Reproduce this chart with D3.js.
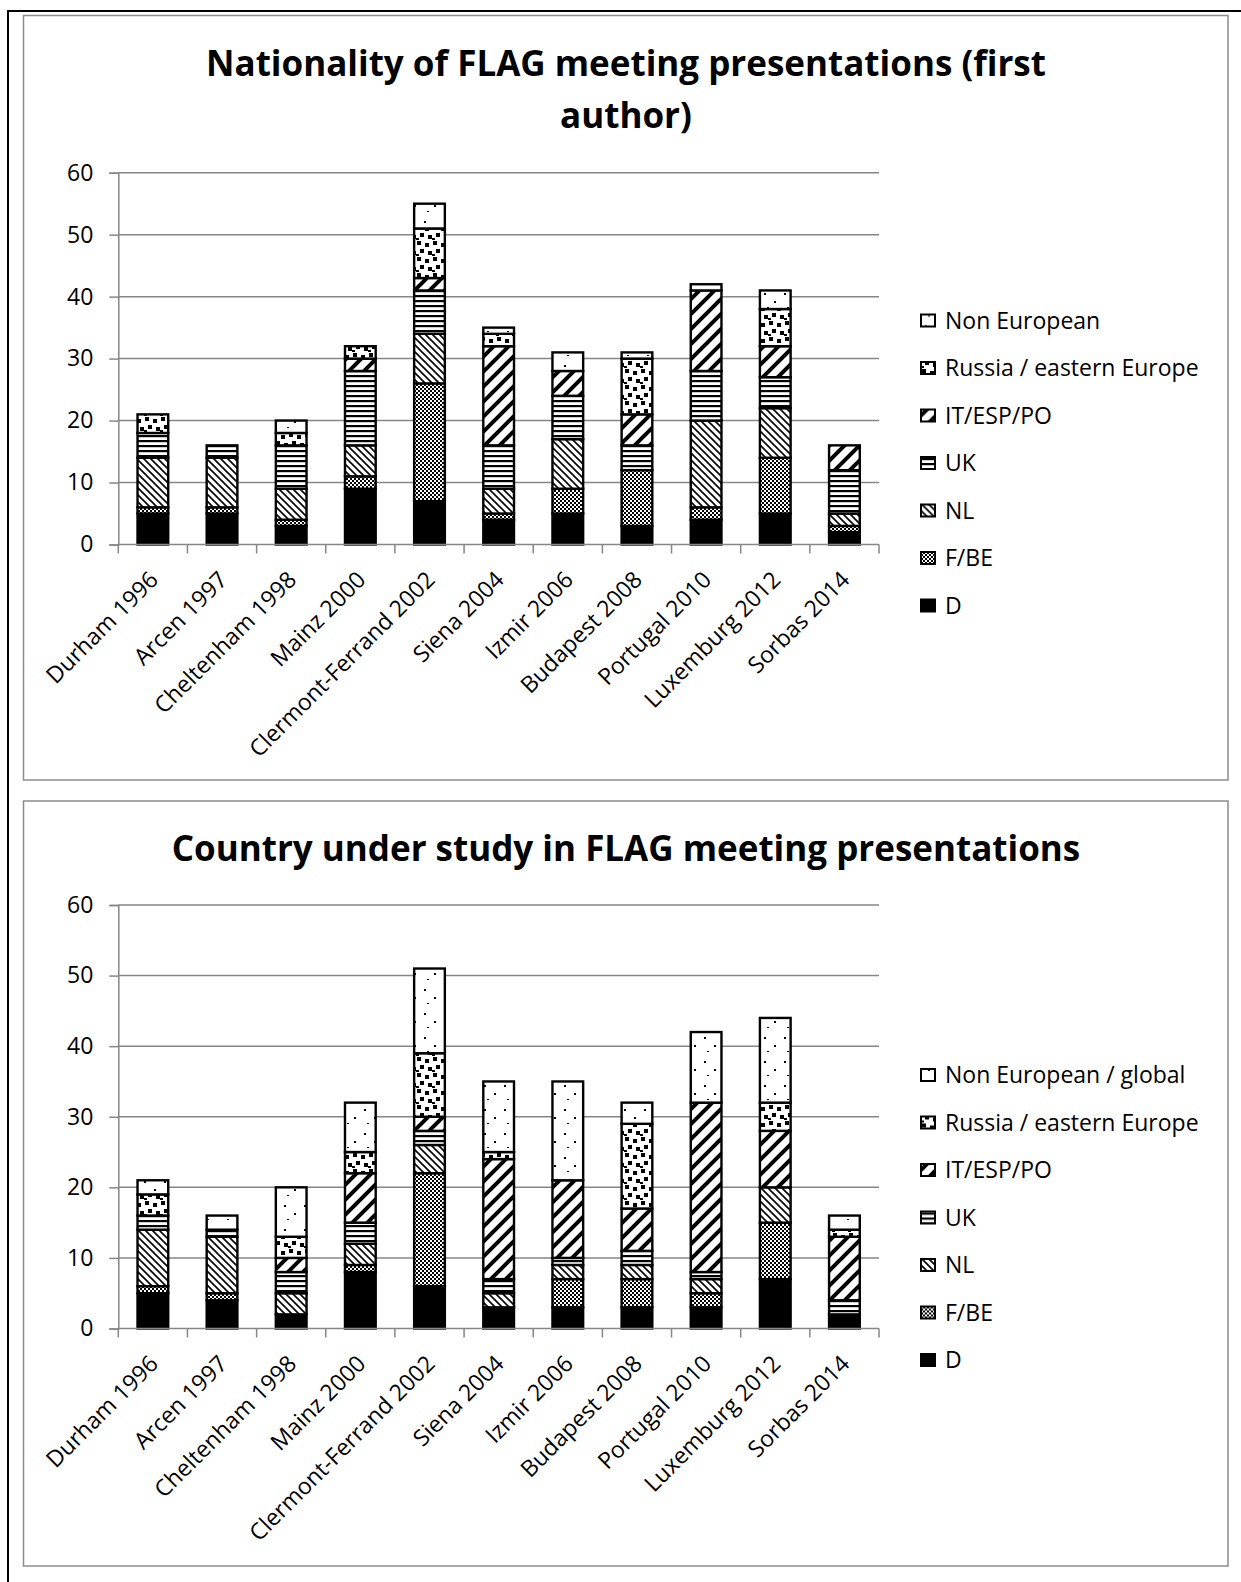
<!DOCTYPE html>
<html>
<head>
<meta charset="utf-8">
<script src="https://cdn.jsdelivr.net/npm/d3@7"></script>
<style>
  body { margin: 0; background: #fff; }
  svg { display: block; }
  text { font-family: "Open Sans", "DejaVu Sans", sans-serif; fill: #000; }
</style>
</head>
<body>
<svg id="fig" width="1241" height="1582"></svg>
<script>
// Meetings (categories on the x axis)
const venues = ["Durham 1996", "Arcen 1997", "Cheltenham 1998", "Mainz 2000",
  "Clermont-Ferrand 2002", "Siena 2004", "Izmir 2006", "Budapest 2008",
  "Portugal 2010", "Luxemburg 2012", "Sorbas 2014"];

// Stack order, bottom to top
const seriesKeys = ["D", "F/BE", "NL", "UK", "IT/ESP/PO", "Russia / eastern Europe", "Non European"];

// Nationality of the first author
const natD   = [5, 5, 3, 9, 7, 4, 5, 3, 4, 5, 2];
const natFBE = [1, 1, 1, 2, 19, 1, 4, 9, 2, 9, 1];
const natNL  = [8, 8, 5, 5, 8, 4, 8, 0, 14, 8, 2];
const natUK  = [4, 2, 7, 12, 7, 7, 7, 4, 8, 5, 7];
const natIT  = [0, 0, 0, 2, 2, 16, 4, 5, 13, 5, 4];
const natRU  = [3, 0, 2, 2, 8, 2, 0, 9, 0, 6, 0];
const natNE  = [0, 0, 2, 0, 4, 1, 3, 1, 1, 3, 0];

// Country under study
const stdD   = [5, 4, 2, 8, 6, 3, 3, 3, 3, 7, 2];
const stdFBE = [1, 1, 0, 1, 16, 0, 4, 4, 2, 8, 0];
const stdNL  = [8, 8, 3, 3, 4, 2, 2, 2, 2, 5, 0];
const stdUK  = [2, 1, 3, 3, 2, 2, 1, 2, 1, 0, 2];
const stdIT  = [0, 0, 2, 7, 2, 17, 11, 6, 24, 8, 9];
const stdRU  = [3, 0, 3, 3, 9, 1, 0, 12, 0, 4, 1];
const stdNE  = [2, 2, 7, 7, 12, 10, 14, 3, 10, 12, 2];

const yTicks = [0, 10, 20, 30, 40, 50, 60];

const legendTop = ["D", "F/BE", "NL", "UK", "IT/ESP/PO", "Russia / eastern Europe", "Non European"];
const legendBottom = ["D", "F/BE", "NL", "UK", "IT/ESP/PO", "Russia / eastern Europe", "Non European / global"];

const svg = d3.select("#fig");
const defs = svg.append("defs");

// Black-and-white hatch fills
function pattern(id, w, h, draw) {
  const p = defs.append("pattern").attr("id", id)
    .attr("patternUnits", "userSpaceOnUse").attr("width", w).attr("height", h);
  p.append("rect").attr("width", w).attr("height", h).attr("fill", "#fff");
  draw(p);
}
pattern("p-fbe", 4, 4, p => p.append("path").attr("d", "M0,0h2v2h-2z M2,2h2v2h-2z").attr("fill", "#000"));
pattern("p-nl", 7, 7, p => p.append("path").attr("d", "M-1,-1 L8,8 M-1,6 L1,8 M6,-1 L8,1")
  .attr("stroke", "#000").attr("stroke-width", 1.6));
pattern("p-uk", 6, 5, p => p.append("rect").attr("width", 6).attr("height", 2.2).attr("fill", "#000"));
pattern("p-it", 15, 15, p => p.append("path").attr("d", "M-4,4 L4,-4 M-1,16 L16,-1 M11,19 L19,11")
  .attr("stroke", "#000").attr("stroke-width", 4));
pattern("p-ru", 16, 16, p => p.append("path")
  .attr("d", "M1,1h4v4h-4z M9,3h4v4h-4z M4,9h4v4h-4z M12,11h4v4h-4z M0,14h3v2h-3z").attr("fill", "#000"));
pattern("p-ne", 20, 24, p => p.append("path")
  .attr("d", "M4,5h2v2h-2z M14,13h2v2h-2z M7,19h2v1h-2z").attr("fill", "#000"));

const fills = ["#000", "url(#p-fbe)", "url(#p-nl)", "url(#p-uk)", "url(#p-it)", "url(#p-ru)", "url(#p-ne)"];

// Outer frame (left and top edges)
svg.append("line").attr("x1", 8).attr("x2", 8).attr("y1", 10).attr("y2", 1582)
  .attr("stroke", "#000").attr("stroke-width", 2);
svg.append("line").attr("x1", 7).attr("x2", 1241).attr("y1", 11).attr("y2", 11)
  .attr("stroke", "#000").attr("stroke-width", 2);

const x = d3.scaleBand().domain(venues).range([118.3, 879]).paddingInner(0.556).paddingOuter(0.278);

function drawChart(cfg) {
  const g = svg.append("g");
  const grey = "#868686";

  g.append("rect").attr("x", 23.5).attr("y", cfg.panelTop)
    .attr("width", 1204.5).attr("height", cfg.panelBottom - cfg.panelTop)
    .attr("fill", "none").attr("stroke", "#8c8c8c").attr("stroke-width", 1.5);

  cfg.titleLines.forEach((t, i) => {
    g.append("text").attr("x", 626).attr("y", cfg.titleY + i * 52)
      .attr("text-anchor", "middle").attr("font-weight", 700).attr("font-size", 35).text(t);
  });

  const y = d3.scaleLinear().domain([0, 60]).range([cfg.y0, cfg.y60]);

  // Gridlines
  g.append("g").selectAll("line").data(yTicks.filter(v => v > 0)).join("line")
    .attr("x1", x.range()[0]).attr("x2", x.range()[1])
    .attr("y1", d => y(d)).attr("y2", d => y(d))
    .attr("stroke", grey).attr("stroke-width", 1.5);

  // Value axis
  const ya = g.append("g").attr("transform", `translate(${x.range()[0]},0)`)
    .call(d3.axisLeft(y).tickValues(yTicks).tickSize(9).tickPadding(16));
  ya.select(".domain").attr("stroke", grey).attr("stroke-width", 1.5);
  ya.selectAll(".tick line").attr("stroke", grey).attr("stroke-width", 1.5);
  ya.selectAll(".tick text").attr("font-size", 23).attr("font-family", null).attr("fill", "#000");

  // Stacked bars
  const rows = venues.map((v, i) => {
    const r = { venue: v };
    seriesKeys.forEach((k, j) => { r[k] = cfg.values[j][i]; });
    return r;
  });
  const layers = d3.stack().keys(seriesKeys)(rows);
  g.append("g").selectAll("g").data(layers).join("g")
    .attr("fill", (d, i) => fills[i])
    .selectAll("rect").data(d => d.filter(s => s[1] > s[0])).join("rect")
    .attr("x", d => x(d.data.venue)).attr("width", x.bandwidth())
    .attr("y", d => y(d[1])).attr("height", d => y(d[0]) - y(d[1]))
    .attr("stroke", "#000").attr("stroke-width", 2.4);

  // Category axis
  g.append("line").attr("x1", x.range()[0]).attr("x2", x.range()[1])
    .attr("y1", y(0)).attr("y2", y(0)).attr("stroke", grey).attr("stroke-width", 1.5);
  const bounds = venues.map(v => x(v) + x.bandwidth() / 2 - x.step() / 2).concat([x.range()[1]]);
  g.append("g").selectAll("line").data(bounds).join("line")
    .attr("x1", d => d).attr("x2", d => d).attr("y1", y(0)).attr("y2", y(0) + 9)
    .attr("stroke", grey).attr("stroke-width", 1.5);
  g.append("g").selectAll("text").data(venues).join("text")
    .attr("transform", d => `translate(${x(d) + x.bandwidth() / 2 + 1},${y(0) + 31}) rotate(-45)`)
    .attr("text-anchor", "end").attr("dy", "0.35em").attr("font-size", 23).text(d => d);

  // Legend, top entry is the last stacked series
  const leg = g.append("g").selectAll("g").data(d3.range(seriesKeys.length).reverse()).join("g")
    .attr("transform", (d, i) => `translate(921,${cfg.legendY + i * 47.5})`);
  leg.append("rect").attr("x", 0).attr("y", -6).attr("width", 14).attr("height", 12)
    .attr("fill", d => fills[d]).attr("stroke", "#000").attr("stroke-width", 2);
  leg.append("text").attr("x", 24).attr("dy", "0.35em").attr("font-size", 23)
    .text(d => cfg.legendNames[d]);
}

drawChart({
  panelTop: 15.5, panelBottom: 780,
  titleLines: ["Nationality of FLAG meeting presentations (first", "author)"], titleY: 76,
  y0: 544.5, y60: 172.7,
  values: [natD, natFBE, natNL, natUK, natIT, natRU, natNE],
  legendNames: legendTop, legendY: 320.5
});

drawChart({
  panelTop: 801, panelBottom: 1566,
  titleLines: ["Country under study in FLAG meeting presentations"], titleY: 861,
  y0: 1328.5, y60: 905,
  values: [stdD, stdFBE, stdNL, stdUK, stdIT, stdRU, stdNE],
  legendNames: legendBottom, legendY: 1075
});
</script>
</body>
</html>
